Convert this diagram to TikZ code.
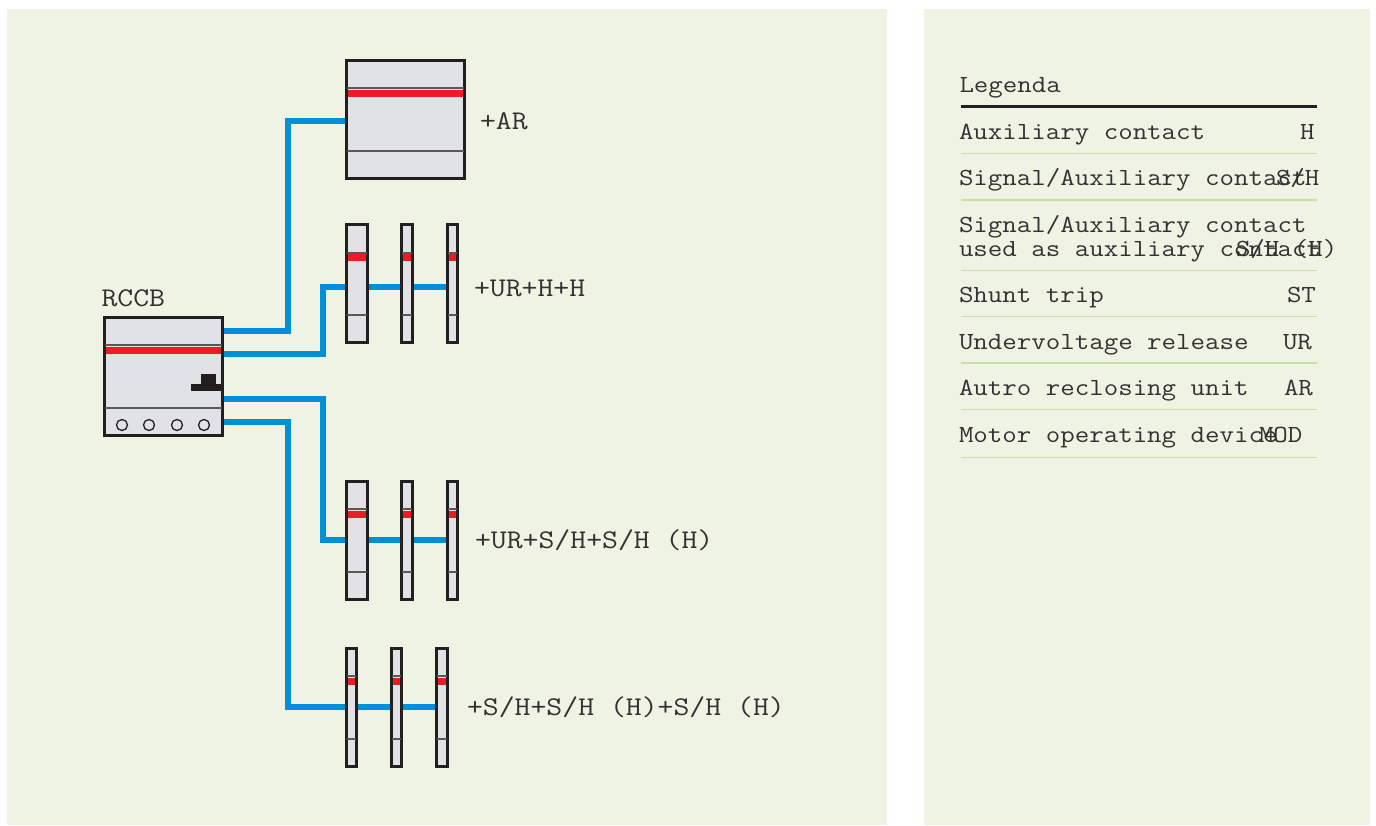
\documentclass[tikz,border=0pt]{standalone}
\usepackage{fontspec}
\setmonofont[FakeStretch=1.143]{Latin Modern Mono}
\definecolor{panel}{HTML}{EFF3E4}
\definecolor{wirecol}{HTML}{0090D7}
\definecolor{ink}{HTML}{231F20}
\definecolor{bodyg}{HTML}{E1E2E4}
\definecolor{redb}{HTML}{ED1C24}
\definecolor{lineg}{HTML}{C9DFA6}
\tikzset{
 panelbox/.style={fill=panel,draw=none},
 wire/.style={draw=wirecol,line width=5.4pt},
 lbl/.style={anchor=base west,inner sep=0pt,outer sep=0pt,text=ink!92,font=\fontsize{24.6}{24.6}\selectfont\ttfamily},
 biglbl/.style={lbl,font=\fontsize{27}{27}\selectfont\ttfamily},
 devbox/.style={draw=ink,fill=bodyg,line width=3.4pt,inner sep=0pt,outer sep=1.7pt,rectangle},
 divider/.style={draw=ink!75,line width=1.6pt},
 redband/.style={fill=redb,draw=none},
 greenrule/.style={draw=lineg,line width=1.2pt},
 blackrule/.style={draw=ink,line width=3pt},
}
% name, left, top, right, bottom, upper line y, red top, red bottom, lower line y
\newcommand{\devicebox}[9]{%
 \node[devbox,minimum width={(#4-#2-2.8)*1pt},minimum height={(#5-#3-2.8)*1pt},anchor=center] (#1) at ({(#2+#4)/2},{(#3+#5)/2}) {};
 \draw[divider] (#2+2,#6) -- (#4-2,#6);
 \fill[redband] (#2+3,#7) rectangle (#4-3,#8);
 \draw[divider] (#2+2,#9) -- (#4-2,#9);
}
\begin{document}
\begin{tikzpicture}[x=1pt,y=-1pt]
\useasboundingbox (0,0) rectangle (1376,825);
\fill[white] (0,0) rectangle (1376,825);
\fill[panelbox] (7,9) rectangle (887,825);
\fill[panelbox] (924,9) rectangle (1370,825);

% devices
\devicebox{rccb}{103}{316}{224}{437}{345}{347}{354}{408}
\devicebox{ar}{345}{59}{466}{180}{88}{90}{97}{151}
\devicebox{ua}{345}{223}{369}{344}{253}{254}{261}{315}
\devicebox{ub}{400}{223}{414}{344}{253}{254}{261}{315}
\devicebox{uc}{446}{223}{459}{344}{253}{254}{261}{315}
\devicebox{va}{345}{480}{369}{601}{509}{511}{518}{572}
\devicebox{vb}{400}{480}{414}{601}{509}{511}{518}{572}
\devicebox{vc}{446}{480}{459}{601}{509}{511}{518}{572}
\devicebox{sa}{345}{647}{358}{768}{676}{678}{685}{739}
\devicebox{sb}{390}{647}{403}{768}{676}{678}{685}{739}
\devicebox{sc}{435}{647}{449}{768}{676}{678}{685}{739}

% rccb details
\foreach \cx in {122,149,177,204} \draw[ink,line width=1.3pt] (\cx,425) circle (5.5);
\fill[ink] (191,384) rectangle (222,391);
\fill[ink] (201,374) rectangle (216,384);

% connectors
\draw[wire] (rccb.east |- 0,331) -- (288,331) -- (288,121) -- (ar.west |- 0,121);
\draw[wire] (rccb.east |- 0,354) -- (323,354) -- (323,287) -- (ua.west |- 0,287);
\draw[wire] (ua.east |- 0,287) -- (ub.west |- 0,287);
\draw[wire] (ub.east |- 0,287) -- (uc.west |- 0,287);
\draw[wire] (rccb.east |- 0,399) -- (323,399) -- (323,540) -- (va.west |- 0,540);
\draw[wire] (va.east |- 0,540) -- (vb.west |- 0,540);
\draw[wire] (vb.east |- 0,540) -- (vc.west |- 0,540);
\draw[wire] (rccb.east |- 0,422) -- (288,422) -- (288,707) -- (sa.west |- 0,707);
\draw[wire] (sa.east |- 0,707) -- (sb.west |- 0,707);
\draw[wire] (sb.east |- 0,707) -- (sc.west |- 0,707);

% diagram labels
\node[biglbl] (t1) at (101.5,306) {RCCB};
\node[biglbl] (t2) at (480,129) {+AR};
\node[biglbl] (t3) at (474,296.5) {+UR+H+H};
\node[biglbl] (t4) at (475,548) {+UR+S/H+S/H (H)};
\node[biglbl] (t5) at (467,715) {+S/H+S/H (H)+S/H (H)};

% legend
\node[lbl] (l0) at (959.5,92) {Legenda};
\draw[blackrule] (961,106) -- (1317,106);
\node[lbl] (l1) at (959,139.3) {Auxiliary contact};
\node[lbl] (r1) at (1300,139.3) {H};
\draw[greenrule] (961,153.5) -- (1317,153.5);
\node[lbl] (l2) at (959,185.3) {Signal/Auxiliary contact};
\node[lbl] (r2) at (1276,185.3) {S/H};
\draw[greenrule] (961,200) -- (1317,200);
\node[lbl] (l3) at (959,232.3) {Signal/Auxiliary contact};
\node[lbl] (l3b) at (959,256.3) {used as auxiliary contact};
\node[lbl] (r3) at (1236,256.3) {S/H (H)};
\draw[greenrule] (961,270.5) -- (1317,270.5);
\node[lbl] (l4) at (959,302.3) {Shunt trip};
\node[lbl] (r4) at (1287,302.3) {ST};
\draw[greenrule] (961,316.5) -- (1317,316.5);
\node[lbl] (l5) at (959,349.3) {Undervoltage release};
\node[lbl] (r5) at (1283,349.3) {UR};
\draw[greenrule] (961,363) -- (1317,363);
\node[lbl] (l6) at (959,395.3) {Autro reclosing unit};
\node[lbl] (r6) at (1284,395.3) {AR};
\draw[greenrule] (961,409.5) -- (1317,409.5);
\node[lbl] (l7) at (959,442.3) {Motor operating device};
\node[lbl] (r7) at (1259,442.3) {MOD};
\draw[greenrule] (961,457.5) -- (1317,457.5);
\end{tikzpicture}
\end{document}
